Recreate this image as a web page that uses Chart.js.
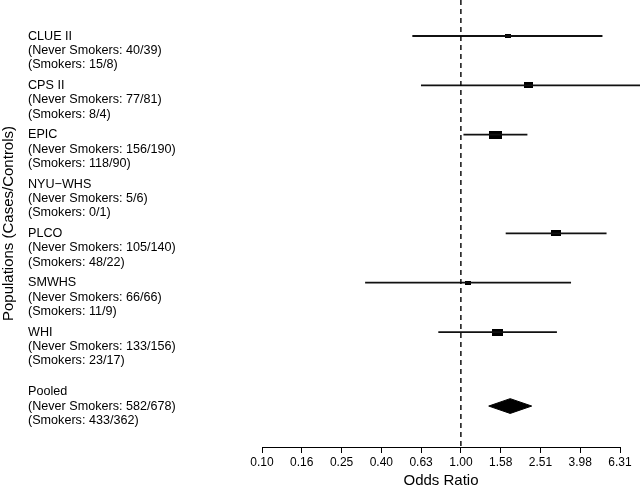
<!DOCTYPE html>
<html>
<head>
<meta charset="utf-8">
<script src="https://cdn.jsdelivr.net/npm/chart.js@4/dist/chart.umd.min.js"></script>
<style>
  html, body { margin: 0; padding: 0; background: #fff; }
</style>
</head>
<body>
<canvas id="forest" width="640" height="491"></canvas>
<script>
// studies, top to bottom
const studies = ["CLUE II", "CPS II", "EPIC", "NYU\u2212WHS", "PLCO", "SMWHS", "WHI"];
const neverCounts = ["40/39", "77/81", "156/190", "5/6", "105/140", "66/66", "133/156"];
const smokerCounts = ["15/8", "8/4", "118/90", "0/1", "48/22", "11/9", "23/17"];
const rows = [0, 1, 2, 3, 4, 5, 6];

// odds ratios (null = no estimate for NYU-WHS)
const orEst = [1.72, 2.20, 1.49, null, 3.01, 1.08, 1.52];
const orLow = [0.57, 0.63, 1.03, null, 1.68, 0.33, 0.77];
const orHigh = [5.15, 8.5, 2.16, null, 5.40, 3.58, 3.04];
const weights = [6, 9, 13, null, 10, 6, 11]; // box width, px

const pooledName = "Pooled";
const pooledNever = "582/678";
const pooledSmokers = "433/362";
const pooledRow = 7.5;
const pooledEst = 1.77;
const pooledLow = 1.38;
const pooledHigh = 2.27;

const tickValues = [0.1, 0.1585, 0.2512, 0.3981, 0.631, 1, 1.585, 2.512, 3.981, 6.31];
const tickLabels = ["0.10", "0.16", "0.25", "0.40", "0.63", "1.00", "1.58", "2.51", "3.98", "6.31"];

const yMin = -0.73;
const yMax = 8.33;
const FONT = "'Liberation Sans', Arial, Helvetica, sans-serif";

// little black boxes used as point markers
function makeBox(w) {
  const c = document.createElement("canvas");
  c.width = w;
  c.height = Math.round(w * 0.64);
  const g = c.getContext("2d");
  g.fillStyle = "#000";
  g.fillRect(0, 0, c.width, c.height);
  return c;
}

const datasets = [];

// reference line at OR = 1
datasets.push({
  data: [{ x: 1, y: yMin }, { x: 1, y: yMax }],
  borderColor: "#000",
  borderWidth: 1.4,
  borderDash: [5, 4],
  pointRadius: 0,
});

// confidence intervals
rows.forEach((r, i) => {
  if (orEst[i] === null) return;
  datasets.push({
    data: [{ x: orLow[i], y: r }, { x: orHigh[i], y: r }],
    borderColor: "#111",
    borderWidth: 1.8,
    pointRadius: 0,
    clip: false,
  });
});

// point estimates
const boxPts = [];
const boxImgs = [];
rows.forEach((r, i) => {
  if (orEst[i] === null) return;
  boxPts.push({ x: orEst[i], y: r });
  boxImgs.push(makeBox(weights[i]));
});
datasets.push({
  data: boxPts,
  showLine: false,
  pointRadius: 5,
  pointStyle: (ctx) => boxImgs[ctx.dataIndex],
});

// pooled diamond (upper half filled down to lower half)
const halfH = 0.15;
datasets.push({
  data: [{ x: pooledLow, y: pooledRow }, { x: pooledEst, y: pooledRow - halfH }, { x: pooledHigh, y: pooledRow }],
  borderColor: "#000",
  borderWidth: 1,
  backgroundColor: "#000",
  pointRadius: 0,
  fill: "+1",
});
datasets.push({
  data: [{ x: pooledLow, y: pooledRow }, { x: pooledEst, y: pooledRow + halfH }, { x: pooledHigh, y: pooledRow }],
  borderColor: "#000",
  borderWidth: 1,
  pointRadius: 0,
  fill: false,
});

new Chart(document.getElementById("forest"), {
  type: "line",
  data: { datasets: datasets },
  options: {
    responsive: false,
    animation: false,
    layout: { autoPadding: false, padding: { left: 0, right: 20, top: 0, bottom: 0 } },
    plugins: {
      legend: { display: false },
      tooltip: { enabled: false },
      title: {
        display: true,
        position: "left",
        fullSize: false,
        text: "Populations (Cases/Controls)",
        color: "#000",
        font: { family: FONT, size: 15, weight: "normal", lineHeight: 1.2 },
        padding: { top: 0, bottom: 10 },
      },
    },
    scales: {
      x: {
        type: "logarithmic",
        min: 0.1,
        max: 6.31,
        afterBuildTicks: (scale) => {
          scale.ticks = tickValues.map((v) => ({ value: v }));
        },
        afterFit: (scale) => {
          scale.height = 44;
          scale.paddingLeft = 0;
          scale.paddingRight = 0;
        },
        ticks: {
          autoSkip: false,
          maxRotation: 0,
          padding: 2,
          color: "#000",
          font: { family: FONT, size: 12 },
          callback: (v, i) => tickLabels[i],
        },
        grid: { display: true, drawOnChartArea: false, drawTicks: true, tickLength: 6, color: "#000", lineWidth: 1 },
        border: { display: true, color: "#000", width: 1 },
        title: {
          display: true,
          text: "Odds Ratio",
          color: "#000",
          font: { family: FONT, size: 15 },
          padding: { top: 0, bottom: 1 },
        },
      },
      y: {
        type: "linear",
        reverse: true,
        min: yMin,
        max: yMax,
        afterBuildTicks: (scale) => {
          scale.ticks = rows.concat([pooledRow]).map((v) => ({ value: v }));
        },
        afterFit: (scale) => {
          scale.width = 234;
          scale.paddingTop = 0;
          scale.paddingBottom = 0;
        },
        ticks: {
          autoSkip: false,
          crossAlign: "far",
          padding: 10,
          color: "#000",
          font: { family: FONT, size: 12.6, lineHeight: 1.14 },
          callback: (v, i) => {
            if (i < studies.length) {
              return ["", "", studies[i], "(Never Smokers: " + neverCounts[i] + ")", "(Smokers: " + smokerCounts[i] + ")"];
            }
            return [pooledName, "(Never Smokers: " + pooledNever + ")", "(Smokers: " + pooledSmokers + ")"];
          },
        },
        grid: { display: false, drawTicks: false },
        border: { display: false },
      },
    },
  },
});
</script>
</body>
</html>
